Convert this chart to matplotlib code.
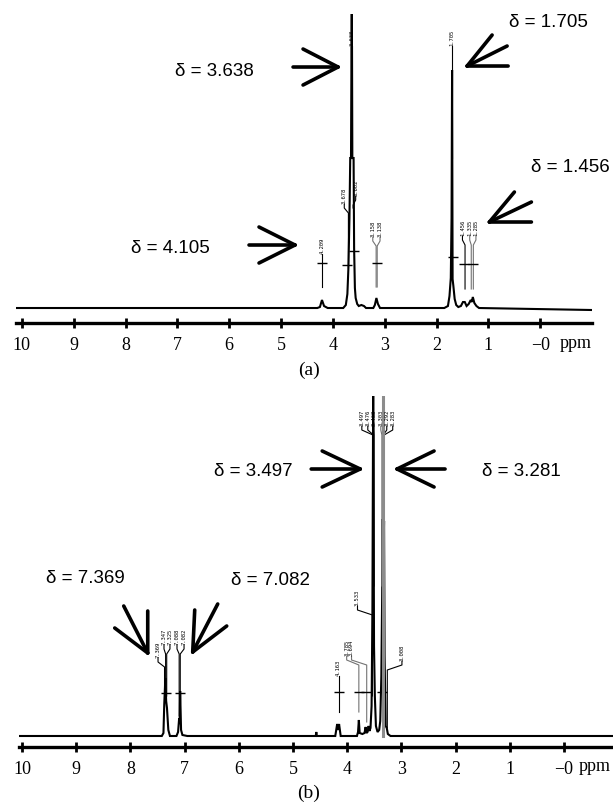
import matplotlib
matplotlib.use("Agg")
import matplotlib.pyplot as plt

# ---- data (ppm, intensity in px above baseline) ----
spec_a_ppm = [10.12, 4.30, 4.25, 4.21, 4.17, 4.10, 3.80, 3.75, 3.72, 3.70, 3.68, 3.665,
              3.65, 3.635, 3.625, 3.61, 3.60, 3.59, 3.575, 3.56, 3.53, 3.50, 3.45, 3.40,
              3.36, 3.22, 3.19, 3.16, 3.13, 3.09, 1.85, 1.78, 1.75, 1.725, 1.71, 1.70,
              1.69, 1.675, 1.65, 1.62, 1.58, 1.53, 1.49, 1.455, 1.42, 1.38, 1.34, 1.32,
              1.30, 1.27, 1.23, 1.18, -1.0]
spec_a_int = [0, 0, 1, 8, 2, 0, 0, 3, 14, 40, 90, 150,
              150, 320, 150, 150, 150, 60, 20, 10, 4, 2, 3, 2,
              0, 0, 3, 10, 4, 0, 0, 2, 12, 30, 90, 238,
              29, 22, 9, 3, 1, 2, 6, 6, 2, 4, 8, 6,
              11, 5, 2, 0, -2]

spec_b_ppm = [10.06, 7.42, 7.39, 7.375, 7.355, 7.34, 7.325, 7.30, 7.27, 7.15, 7.12, 7.10,
              7.09, 7.082, 7.065, 7.04, 6.95, 4.58, 4.57, 4.56, 4.22, 4.185, 4.165, 4.15,
              4.12, 3.82, 3.80, 3.785, 3.77, 3.72, 3.68, 3.66, 3.645, 3.625, 3.605, 3.59,
              3.57, 3.55, 3.535, 3.52, 3.505, 3.49, 3.47, 3.44, 3.41, 3.39, 3.37, 3.355,
              3.345, 3.335, 3.32, 3.31, 3.29, 3.27, 3.25, 3.20, -0.9]
spec_b_int = [0, 0, 3, 32, 58, 35, 28, 6, 0, 0, 4, 18,
              12, 45, 6, 1, 0, 0, 4, 0, 0, 12, 6, 12,
              0, 0, 4, 16, 3, 2, 3, 9, 3, 4, 10, 5,
              8, 30, 120, 360, 90, 40, 10, 4, 6, 15, 60, 140,
              217, 160, 215, 80, 10, 8, 2, 0, 0]

tick_vals = [10, 9, 8, 7, 6, 5, 4, 3, 2, 1, 0]
tick_text = ["10", "9", "8", "7", "6", "5", "4", "3", "2", "1", "\u22120"]

# shift annotations: text, left edge (ppm), y (intensity)
notes_a = [("δ = 3.638", 7.05, 238), ("δ = 4.105", 7.90, 61),
           ("δ = 1.705", 0.60, 287), ("δ = 1.456", 0.17, 142)]
notes_b = [("δ = 3.497", 6.46, 266), ("δ = 3.281", 1.51, 266),
           ("δ = 7.369", 9.56, 158), ("δ = 7.082", 6.14, 156)]

# open arrows: tip (ppm, intensity) and stroke ends in px relative to the tip
arrows_a = [((3.90, 241), [(-45, 0), (-35, 18), (-35, -18)]),
            ((4.73, 63), [(-46, 0), (-36, 18), (-36, -18)]),
            ((1.41, 242), [(41, 0), (40, 20), (25, 31)]),
            ((0.98, 86), [(42, 0), (42, 20), (25, 30)])]
arrows_b = [((3.76, 267), [(-49, 0), (-38, 18), (-38, -18)]),
            ((3.08, 267), [(48, 0), (37, 18), (37, -18)]),
            ((7.68, 83), [(0, 42), (-24, 47), (-33, 25)]),
            ((6.85, 84), [(2, 42), (25, 48), (34, 26)])]

# peak picking labels: text, text ppm, text bottom, peak ppm, line end, colour
labels_a = [("4.209", 4.20, 54, 4.20, 21, "k"), ("3.678", 3.78, 104, 3.70, 40, "k"),
            ("3.638", 3.635, 262, 3.635, 150, "k"), ("3.602", 3.56, 112, 3.61, 100, "k"),
            ("3.158", 3.23, 71, 3.165, 21, "0.45"), ("3.138", 3.09, 71, 3.145, 21, "0.45"),
            ("1.705", 1.70, 262, 1.70, 150, "k"), ("1.456", 1.50, 72, 1.45, 19, "k"),
            ("1.335", 1.36, 72, 1.33, 19, "0.45"), ("1.285", 1.24, 72, 1.29, 19, "0.45")]
labels_b = [("7.369", 7.49, 78, 7.37, 50, "k"), ("7.347", 7.38, 91, 7.35, 55, "k"),
            ("7.325", 7.27, 91, 7.33, 40, "k"), ("7.088", 7.14, 91, 7.10, 20, "k"),
            ("7.082", 7.01, 91, 7.08, 40, "k"), ("4.163", 4.16, 60, 4.16, 24, "k"),
            ("3.785", 4.01, 80, 3.785, 24, "0.45"), ("3.694", 3.92, 80, 3.64, 14, "0.45"),
            ("3.533", 3.81, 130, 3.535, 40, "k"), ("3.497", 3.73, 310, 3.525, 150, "k"),
            ("3.476", 3.62, 310, 3.515, 150, "k"), ("3.468", 3.51, 310, 3.505, 150, "k"),
            ("3.303", 3.38, 310, 3.36, 150, "0.45"), ("3.292", 3.27, 310, 3.335, 150, "k"),
            ("3.283", 3.16, 310, 3.32, 150, "k"), ("3.008", 2.99, 75, 3.26, 8, "k")]

# integration marks
integ_a = [(4.20, 45), (3.72, 43), (3.60, 57), (3.155, 45), (1.68, 51), (1.47, 44), (1.30, 44)]
integ_b = [(7.35, 43), (7.08, 43), (4.16, 44), (3.785, 44), (3.655, 44), (3.36, 44)]

# grey trace overlaid on the big multiplet in (b)
grey_b_ppm = 3.345


def draw_panel(ax, ppm, inten, notes, arrows, labels, integ, xlim, ylim):
    ax.plot(ppm, inten, color="black", lw=1.5, solid_joinstyle="miter")
    ax.set_xlim(*xlim)
    ax.set_ylim(*ylim)
    for s in ["top", "left", "right"]:
        ax.spines[s].set_visible(False)
    ax.spines["bottom"].set_linewidth(2.4)
    ax.set_yticks([])
    ax.set_xticks(tick_vals)
    ax.set_xticklabels(tick_text, family="Liberation Serif", fontsize=13)
    ax.tick_params(axis="x", direction="inout", length=7, width=2, pad=6)

    for txt, x, y in notes:
        ax.text(x, y, txt, family="Liberation Sans", fontsize=13.5, ha="left", va="center")

    for tip, ends in arrows:
        for dx, dy in ends:
            ax.annotate("", xy=tip, xytext=(dx * 0.72, dy * 0.72), textcoords="offset points",
                        arrowprops=dict(arrowstyle="-", lw=2.6, color="black",
                                        shrinkA=0, shrinkB=0),
                        annotation_clip=False)

    for txt, tx, ty, px, yend, col in labels:
        ax.text(tx, ty + 1, txt, rotation=90, fontsize=4, family="DejaVu Sans Mono",
                ha="center", va="bottom")
        ax.plot([tx, tx, px, px], [ty, ty - 4, ty - 9, yend], color=col, lw=0.8)

    for x, y in integ:
        ax.plot(x, y, marker="_", ms=7, mew=1, color="black")


fig = plt.figure(figsize=(6.13, 8.03), dpi=100)

ax_a = fig.add_axes([0.0255, 0.5965, 0.9403, 0.3848])
draw_panel(ax_a, spec_a_ppm, spec_a_int, notes_a, arrows_a, labels_a, integ_a,
           (10.12, -1.0), (-15, 294))
ax_a.text(-0.38, -34, "ppm", family="Liberation Serif", fontsize=13,
          ha="left", va="center", clip_on=False)

ax_b = fig.add_axes([0.031, 0.0685, 0.969, 0.4371])
draw_panel(ax_b, spec_b_ppm, spec_b_int, notes_b, arrows_b, labels_b, integ_b,
           (10.055, -0.904), (-11, 340))
ax_b.axvline(grey_b_ppm, ymin=0.03, ymax=1.0, color="0.55", lw=2.2)
ax_b.text(-0.27, -30, "ppm", family="Liberation Serif", fontsize=13,
          ha="left", va="center", clip_on=False)

fig.text(309 / 613, 1 - 370 / 803, "(a)", family="Liberation Serif", fontsize=14,
         ha="center", va="center")
fig.text(309 / 613, 1 - 793 / 803, "(b)", family="Liberation Serif", fontsize=14,
         ha="center", va="center")

fig.savefig("out.png", dpi=100, facecolor="white")
